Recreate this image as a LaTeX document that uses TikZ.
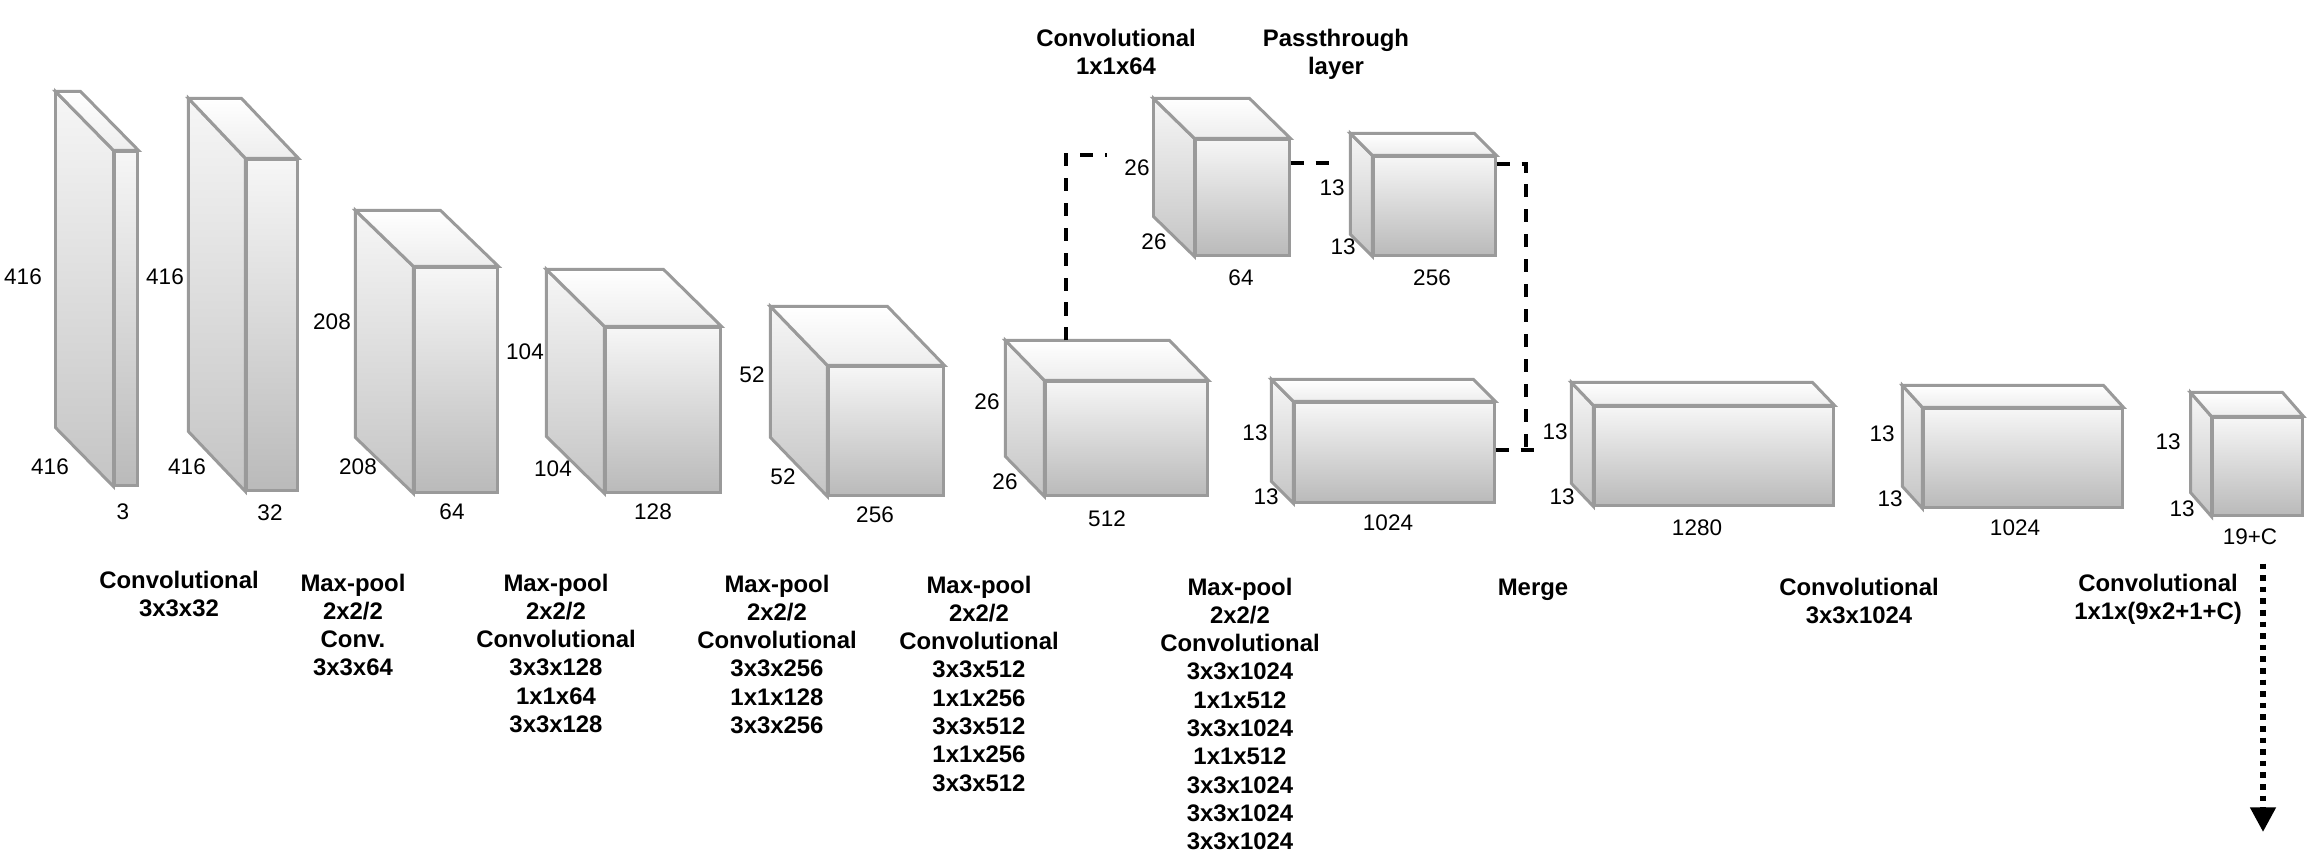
\documentclass[tikz,border=0pt]{standalone}
\usepackage{fontspec}
\setmainfont{Liberation Sans}
\usetikzlibrary{arrows.meta}

\definecolor{edgegray}{HTML}{9A9A9A}
\definecolor{facelight}{HTML}{F6F6F6}
\definecolor{facedark}{HTML}{BABABA}

\tikzset{
  layerface/.style={draw=edgegray, line width=0.85pt, top color=facelight, bottom color=facedark, inner sep=0pt},
  sideface/.style={draw=edgegray, line width=0.85pt, top color=facelight, bottom color=facedark!85!white},
  topface/.style={draw=edgegray, line width=0.85pt, top color=white, bottom color=black!7},
  dimlabel/.style={inner sep=0pt, font=\fontsize{6.4}{7.5}\selectfont},
  layercaption/.style={inner sep=0pt, anchor=north, align=center, font=\fontsize{6.8}{8.05}\selectfont\bfseries},
  passline/.style={line width=1.2pt, dash pattern=on 3.7pt off 3.4pt},
  outarrow/.style={line width=1.6pt, dash pattern=on 1.6pt off 1.7pt, -{Triangle[width=7pt,length=7pt]}}
}

\begin{document}
\begin{tikzpicture}[x=0.01cm, y=-0.01cm]
    \useasboundingbox (0,0) rectangle (2312,852);

    % front faces of the layers
    \node[layerface, minimum width=0.22cm, minimum height=3.33cm] (b1) at (126,318.5) {};
    \node[layerface, minimum width=0.50cm, minimum height=3.30cm] (b2) at (272,325) {};
    \node[layerface, minimum width=0.82cm, minimum height=2.24cm] (b3) at (456,380) {};
    \node[layerface, minimum width=1.14cm, minimum height=1.64cm] (b4) at (663,410) {};
    \node[layerface, minimum width=1.14cm, minimum height=1.28cm] (b5) at (886,431) {};
    \node[layerface, minimum width=1.61cm, minimum height=1.13cm] (b6) at (1126.5,438.5) {};
    \node[layerface, minimum width=0.93cm, minimum height=1.15cm] (b7) at (1242.5,197.5) {};
    \node[layerface, minimum width=1.21cm, minimum height=0.98cm] (b8) at (1434.5,206) {};
    \node[layerface, minimum width=1.99cm, minimum height=0.99cm] (b9) at (1394.5,452.5) {};
    \node[layerface, minimum width=2.38cm, minimum height=0.98cm] (b10) at (1714,456) {};
    \node[layerface, minimum width=1.98cm, minimum height=0.98cm] (b11) at (2023,458) {};
    \node[layerface, minimum width=0.89cm, minimum height=0.97cm] (b12) at (2257.5,466.5) {};

    % side and top faces
    \foreach \lay/\dx/\dy in {b1/58/59, b2/57/60, b3/58/56, b4/58/57, b5/57/59, b6/39/40,
                              b7/41/40, b8/22/22, b9/22/22, b10/22/23, b11/20/22, b12/21/24} {
        \draw[sideface] (\lay.north west) -- ++(-\dx,-\dy) -- ([shift={(-\dx,-\dy)}]\lay.south west) -- (\lay.south west) -- cycle;
        \draw[topface] (\lay.north west) -- ++(-\dx,-\dy) -- ([shift={(-\dx,-\dy)}]\lay.north east) -- (\lay.north east) -- cycle;
    }

    % sizes
    \node[dimlabel] (h1) at (23,277) {416};
    \node[dimlabel] (d1) at (50,467) {416};
    \node[dimlabel] (c1) at (123,512) {3};
    \node[dimlabel] (h2) at (165,277) {416};
    \node[dimlabel] (d2) at (187,467) {416};
    \node[dimlabel] (c2) at (270,513) {32};
    \node[dimlabel] (h3) at (332,322) {208};
    \node[dimlabel] (d3) at (358,467) {208};
    \node[dimlabel] (c3) at (452,512) {64};
    \node[dimlabel] (h4) at (525,352) {104};
    \node[dimlabel] (d4) at (553,469) {104};
    \node[dimlabel] (c4) at (653,512) {128};
    \node[dimlabel] (h5) at (752,375) {52};
    \node[dimlabel] (d5) at (783,477) {52};
    \node[dimlabel] (c5) at (875,515) {256};
    \node[dimlabel] (h6) at (987,402) {26};
    \node[dimlabel] (d6) at (1005,482) {26};
    \node[dimlabel] (c6) at (1107,519) {512};
    \node[dimlabel] (h7) at (1137,168) {26};
    \node[dimlabel] (d7) at (1154,242) {26};
    \node[dimlabel] (c7) at (1241,278) {64};
    \node[dimlabel] (h8) at (1332,188) {13};
    \node[dimlabel] (d8) at (1343,247) {13};
    \node[dimlabel] (c8) at (1432,278) {256};
    \node[dimlabel] (h9) at (1255,433) {13};
    \node[dimlabel] (d9) at (1266,497) {13};
    \node[dimlabel] (c9) at (1388,523) {1024};
    \node[dimlabel] (h10) at (1555,432) {13};
    \node[dimlabel] (d10) at (1562,497) {13};
    \node[dimlabel] (c10) at (1697,528) {1280};
    \node[dimlabel] (h11) at (1882,434) {13};
    \node[dimlabel] (d11) at (1890,499) {13};
    \node[dimlabel] (c11) at (2015,528) {1024};
    \node[dimlabel] (h12) at (2168,442) {13};
    \node[dimlabel] (d12) at (2182,509) {13};
    \node[dimlabel] (c12) at (2250,537) {19+C};

    % layer names
    \node[layercaption] (t1) at (179,570) {Convolutional\\3x3x32};
    \node[layercaption] (t2) at (353,573) {Max-pool\\2x2/2\\Conv.\\3x3x64};
    \node[layercaption] (t3) at (556,573) {Max-pool\\2x2/2\\Convolutional\\3x3x128\\1x1x64\\3x3x128};
    \node[layercaption] (t4) at (777,574) {Max-pool\\2x2/2\\Convolutional\\3x3x256\\1x1x128\\3x3x256};
    \node[layercaption] (t5) at (979,575) {Max-pool\\2x2/2\\Convolutional\\3x3x512\\1x1x256\\3x3x512\\1x1x256\\3x3x512};
    \node[layercaption] (t6) at (1240,577) {Max-pool\\2x2/2\\Convolutional\\3x3x1024\\1x1x512\\3x3x1024\\1x1x512\\3x3x1024\\3x3x1024\\3x3x1024};
    \node[layercaption] (t7) at (1533,578) {Merge};
    \node[layercaption] (t8) at (1859,577) {Convolutional\\3x3x1024};
    \node[layercaption] (t9) at (2158,573) {Convolutional\\1x1x(9x2+1+C)};
    \node[layercaption] (t10) at (1116,28) {Convolutional\\1x1x64};
    \node[layercaption] (t11) at (1336,28) {Passthrough\\layer};

    % passthrough branch
    \coordinate (j1) at (1107,155);
    \coordinate (j2) at (1332,163);
    \coordinate (j3) at (1526,450);
    \coordinate (j4) at (1543,450);
    \draw[passline] ([shift={(-60.5,-40)}]b6.north) |- (j1);
    \draw[passline] ([shift={(0,-34.5)}]b7.east) -- (j2);
    \draw[passline] ([shift={(0,-42)}]b8.east) -| (j3);
    \draw[passline] ([shift={(0,-2.5)}]b9.east) -- (j4);

    % output
    \coordinate (out) at (2263,832);
    \draw[outarrow] ([shift={(5.5,47)}]b12.south) -- (out);

\end{tikzpicture}
\end{document}
